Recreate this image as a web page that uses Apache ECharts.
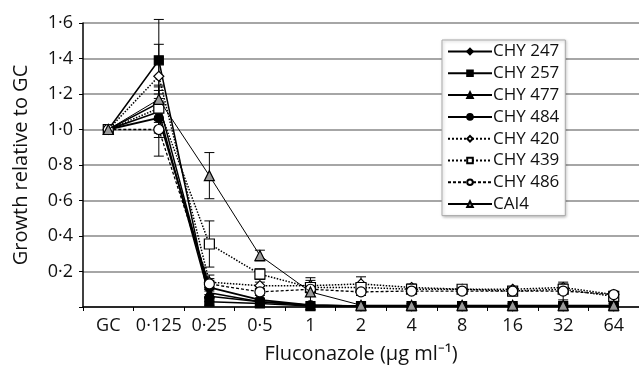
<!DOCTYPE html>
<html>
<head>
<meta charset="utf-8">
<script src="https://cdn.jsdelivr.net/npm/echarts@6/dist/echarts.min.js"></script>
<style>
  html, body { margin: 0; padding: 0; background: #fff; }
  #main { width: 639px; height: 369px; }
</style>
</head>
<body>
<div id="main"></div>
<script>
// concentrations (x categories)
const categories = ["GC", "0·125", "0·25", "0·5", "1", "2", "4", "8", "16", "32", "64"];
const seriesNames = ["CHY 247", "CHY 257", "CHY 477", "CHY 484", "CHY 420", "CHY 439", "CHY 486", "CAI4"];

// growth relative to GC
const chy247 = [1, 1.10, 0.06, 0.03, 0.01, 0.005, 0.005, 0.005, 0.005, 0.005, 0.005];
const chy257 = [1, 1.39, 0.03, 0.02, 0.005, 0.005, 0.005, 0.005, 0.005, 0.005, 0.005];
const chy477 = [1, 1.15, 0.08, 0.03, 0.01, 0.005, 0.005, 0.005, 0.005, 0.005, 0.005];
const chy484 = [1, 1.065, 0.11, 0.04, 0.01, 0.005, 0.005, 0.005, 0.005, 0.005, 0.005];
const chy420 = [1, 1.30, 0.14, 0.12, 0.12, 0.13, 0.11, 0.10, 0.10, 0.11, 0.07];
const chy439 = [1, 1.12, 0.355, 0.185, 0.11, 0.11, 0.10, 0.10, 0.09, 0.10, 0.06];
const chy486 = [1, 1.00, 0.13, 0.085, 0.10, 0.085, 0.09, 0.09, 0.09, 0.09, 0.07];
const cai4 = [1, 1.17, 0.74, 0.29, 0.085, 0.01, 0.01, 0.01, 0.01, 0.01, 0.01];

// error bars (+/-)
const err247 = [0, 0.12, 0.03, 0.01, 0, 0, 0, 0, 0, 0, 0];
const err257 = [0, 0.23, 0.02, 0.01, 0, 0, 0, 0, 0, 0, 0];
const err477 = [0, 0.10, 0.03, 0.01, 0, 0, 0, 0, 0, 0, 0];
const err484 = [0, 0.11, 0.04, 0.01, 0, 0, 0, 0, 0, 0, 0];
const err420 = [0, 0.18, 0.04, 0.02, 0.03, 0.04, 0.02, 0.01, 0.01, 0.02, 0.01];
const err439 = [0, 0.08, 0.13, 0.03, 0.02, 0.02, 0.01, 0.01, 0.01, 0.01, 0.01];
const err486 = [0, 0.15, 0.03, 0.02, 0.02, 0.02, 0.01, 0.01, 0.01, 0.05, 0.01];
const errCai4 = [0, 0.07, 0.13, 0.03, 0.08, 0.01, 0.01, 0.01, 0.01, 0.01, 0.01];

const yTicks = [0, 0.2, 0.4, 0.6, 0.8, 1.0, 1.2, 1.4, 1.6];

const FONT = "Open Sans";
const allValues = [chy247, chy257, chy477, chy484, chy420, chy439, chy486, cai4];
const allErrors = [err247, err257, err477, err484, err420, err439, err486, errCai4];

// marker styles per series
const looks = [
  { symbol: "diamond", size: 9, fill: "#000", line: "solid", lw: 1.5 },
  { symbol: "rect", size: 9, fill: "#000", line: "solid", lw: 1.5 },
  { symbol: "triangle", size: 9, fill: "#000", line: "solid", lw: 1.5 },
  { symbol: "circle", size: 9, fill: "#000", line: "solid", lw: 1.8 },
  { symbol: "diamond", size: 10, fill: "#fff", line: "dotted", lw: 1.5 },
  { symbol: "rect", size: 10, fill: "#fff", line: "dotted", lw: 1.5 },
  { symbol: "circle", size: 10, fill: "#fff", line: [3, 2], lw: 1.3 },
  { symbol: "triangle", size: 10, fill: "#999", line: "solid", lw: 1 }
];

const chart = echarts.init(document.getElementById("main"));

let errData = [];
allValues.forEach((vals, s) => {
  vals.forEach((v, i) => {
    if (allErrors[s][i] > 0) errData.push([i, v - allErrors[s][i], v + allErrors[s][i]]);
  });
});

let series = seriesNames.map((name, s) => ({
  name: name,
  type: "line",
  data: allValues[s],
  symbol: looks[s].symbol,
  symbolSize: looks[s].size,
  showAllSymbol: true,
  z: 3 + s,
  lineStyle: { color: "#000", width: looks[s].lw, type: looks[s].line },
  itemStyle: { color: looks[s].fill, borderColor: "#000", borderWidth: 1.2 }
}));

series.push({
  type: "custom",
  z: 2,
  silent: true,
  data: errData,
  renderItem: function (params, api) {
    const lo = api.coord([api.value(0), api.value(1)]);
    const hi = api.coord([api.value(0), api.value(2)]);
    const w = 5;
    const st = { stroke: "#000", lineWidth: 1 };
    return {
      type: "group",
      children: [
        { type: "line", shape: { x1: lo[0], y1: lo[1], x2: hi[0], y2: hi[1] }, style: st },
        { type: "line", shape: { x1: lo[0] - w, y1: lo[1], x2: lo[0] + w, y2: lo[1] }, style: st },
        { type: "line", shape: { x1: hi[0] - w, y1: hi[1], x2: hi[0] + w, y2: hi[1] }, style: st }
      ]
    };
  }
});

chart.setOption({
  animation: false,
  textStyle: { fontFamily: FONT },
  grid: { left: 83, right: 0, top: 23, bottom: 62 },
  legend: {
    orient: "vertical",
    left: 442,
    top: 40,
    data: seriesNames,
    itemWidth: 44,
    itemHeight: 7,
    itemGap: 4.8,
    padding: [3, 6, 3, 5],
    backgroundColor: "#fff",
    borderColor: "#aaa",
    borderWidth: 1,
    shadowColor: "rgba(0,0,0,0.25)",
    shadowBlur: 3,
    shadowOffsetX: 1,
    shadowOffsetY: 1,
    textStyle: { fontFamily: FONT, fontSize: 17, color: "#111", padding: [0, 0, 0, -4] }
  },
  xAxis: {
    type: "category",
    data: categories,
    name: "Fluconazole (μg ml⁻¹)",
    nameLocation: "middle",
    nameGap: 37,
    nameTextStyle: { fontFamily: FONT, fontSize: 20, color: "#111" },
    axisLine: { lineStyle: { color: "#000", width: 1.5 } },
    axisTick: { show: true, length: 4, lineStyle: { color: "#000" } },
    axisLabel: { fontFamily: FONT, fontSize: 18, color: "#111", margin: 10, interval: 0, hideOverlap: false },
    splitLine: { show: false }
  },
  yAxis: {
    type: "value",
    min: 0,
    max: 1.6,
    interval: 0.2,
    name: "Growth relative to GC",
    nameLocation: "middle",
    nameGap: 52,
    nameTextStyle: { fontFamily: FONT, fontSize: 20, color: "#111" },
    axisLine: { show: true, lineStyle: { color: "#000", width: 1.5 } },
    axisTick: { show: true, length: 4, lineStyle: { color: "#000" } },
    axisLabel: {
      fontFamily: FONT,
      fontSize: 18,
      color: "#111",
      margin: 10,
      formatter: function (v) {
        if (v === 0) return "";
        const t = yTicks.find(x => Math.abs(x - v) < 1e-6);
        return (t !== undefined ? t : v).toFixed(1).replace(".", "·");
      }
    },
    splitLine: { show: true, lineStyle: { color: "#888", width: 1.5 } }
  },
  series: series
});
</script>
</body>
</html>
